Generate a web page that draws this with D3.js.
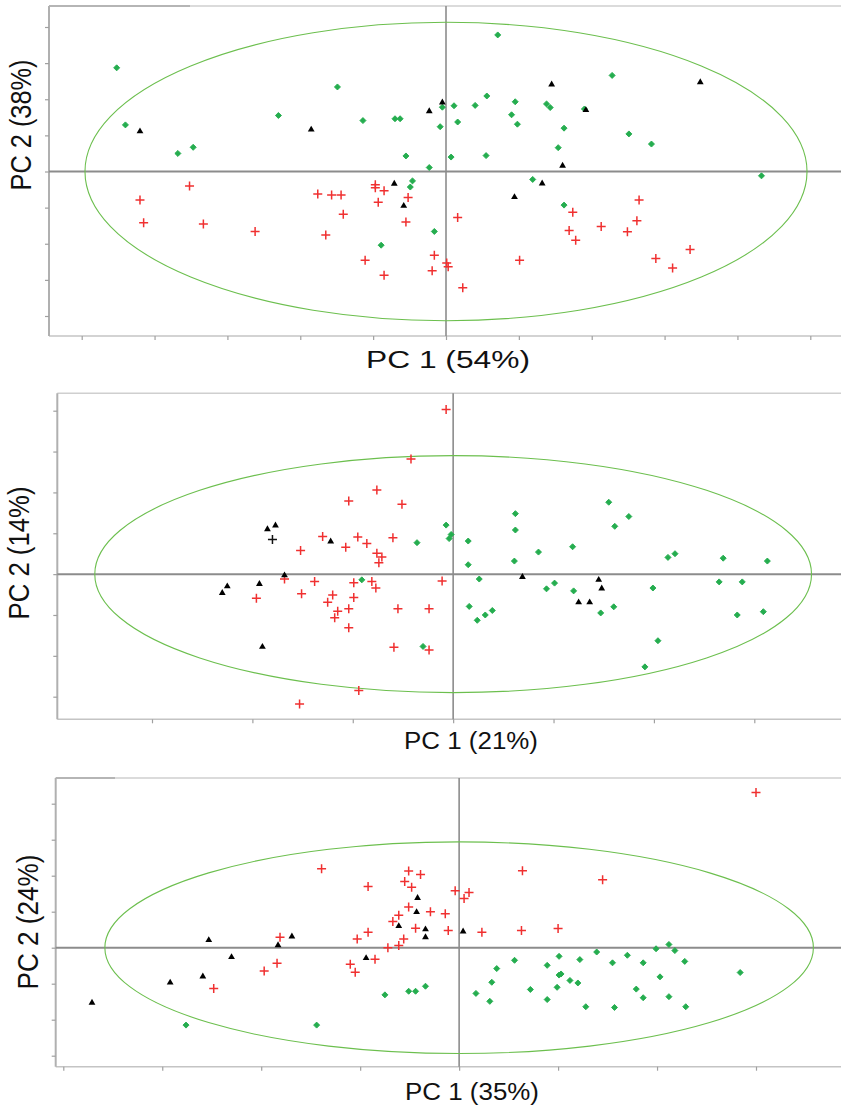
<!DOCTYPE html>
<html><head><meta charset="utf-8">
<script src="https://cdn.jsdelivr.net/npm/d3@7"></script>
<style>body{margin:0;background:#fff}svg{display:block}</style>
</head><body><svg id="c" width="841" height="1109"></svg>
<script>
// ---------- Panel 1 data (PC1 54%, PC2 38%) ----------
const p1XTicks = [-5,-4,-3,-2,-1,0,1,2,3,4,5];
const p1YTicks = [-4,-3,-2,-1,0,1,2,3,4];
const p1Ellipse = [4.955, 4.13];
const p1XLabel = "PC 1 (54%)";
const p1YLabel = "PC 2 (38%)";
const p1Green = [[-4.52,2.87],[-4.40,1.29],[-3.68,0.50],[-3.47,0.67],[-2.30,1.55],[-1.49,2.34],[-1.14,1.41],[-0.70,1.46],[-0.63,1.46],[-0.55,0.43],[-0.46,-0.26],[-0.49,-0.43],[0.71,3.78],[2.28,2.66],[-0.05,1.78],[0.11,1.82],[0.40,1.83],[0.56,2.09],[0.95,1.93],[1.38,1.87],[1.43,1.77],[1.90,1.73],[0.90,1.57],[0.98,1.31],[0.16,1.37],[-0.08,1.24],[1.62,1.20],[2.51,1.04],[2.82,0.76],[1.54,0.66],[0.07,0.40],[0.55,0.44],[-0.23,0.11],[4.33,-0.12],[1.19,-0.22],[1.62,-0.93],[-0.16,-1.66],[-0.89,-2.04]];
const p1Red = [[-3.52,-0.40],[-4.20,-0.79],[-4.15,-1.42],[-3.33,-1.45],[-2.62,-1.66],[-1.76,-0.62],[-1.57,-0.65],[-1.44,-0.65],[-1.41,-1.18],[-1.65,-1.76],[-0.97,-0.37],[-0.97,-0.45],[-0.85,-0.53],[-0.52,-0.72],[-0.93,-0.85],[-0.55,-1.40],[-1.11,-2.46],[-0.85,-2.87],[2.65,-0.79],[1.74,-1.13],[0.16,-1.27],[2.62,-1.36],[2.13,-1.52],[1.69,-1.63],[2.49,-1.67],[1.78,-1.90],[3.35,-2.16],[2.88,-2.41],[3.11,-2.67],[-0.16,-2.32],[0.01,-2.53],[0.03,-2.64],[-0.19,-2.75],[1.01,-2.46],[0.23,-3.22]];
const p1Black = [[-4.20,1.11],[-1.85,1.16],[-0.71,-0.34],[-0.58,-0.95],[1.45,2.41],[3.49,2.47],[-0.05,1.91],[-0.23,1.67],[1.92,1.70],[1.60,0.16],[1.32,-0.33],[0.94,-0.71]];
const p1BlackPlus = [];

// ---------- Panel 2 data (PC1 21%, PC2 14%) ----------
const p2XTicks = [-3,-2,-1,0,1,2,3];
const p2YTicks = [-3,-2,-1,0,1,2,3,4];
const p2Ellipse = [3.57, 2.90];
const p2XLabel = "PC 1 (21%)";
const p2YLabel = "PC 2 (14%)";
const p2Green = [[-0.36,0.77],[-0.07,1.20],[-0.02,0.97],[-0.04,0.87],[0.15,0.81],[0.15,0.23],[0.62,1.48],[0.62,1.08],[0.61,0.32],[0.85,0.54],[1.19,0.67],[1.55,1.76],[1.75,1.41],[1.61,1.17],[2.14,0.41],[2.21,0.50],[2.69,0.39],[3.13,0.32],[-0.91,-0.14],[0.26,-0.12],[0.93,-0.36],[1.01,-0.22],[1.20,-0.41],[1.47,-0.95],[1.60,-0.80],[1.99,-0.34],[2.65,-0.19],[2.88,-0.19],[2.83,-1.00],[3.09,-0.92],[0.16,-0.79],[0.24,-1.13],[0.32,-1.00],[0.39,-0.89],[2.04,-1.63],[1.91,-2.27],[-0.30,-1.77]];
const p2Red = [[-0.07,4.03],[-0.42,2.82],[-0.76,2.06],[-1.04,1.79],[-0.51,1.71],[-1.30,0.92],[-0.95,0.91],[-0.86,0.75],[-0.60,0.89],[-1.07,0.66],[-1.52,0.58],[-0.76,0.51],[-0.71,0.42],[-0.74,0.28],[-1.68,-0.12],[-1.38,-0.18],[-0.99,-0.21],[-0.81,-0.18],[-0.77,-0.34],[-1.51,-0.48],[-1.20,-0.51],[-0.99,-0.57],[-1.96,-0.59],[-1.25,-0.69],[-1.15,-0.91],[-1.04,-0.85],[-1.18,-1.07],[-0.55,-0.85],[-1.04,-1.31],[-0.59,-1.79],[-0.94,-2.85],[-1.53,-3.18],[-0.11,-0.17],[-0.24,-0.85],[-0.24,-1.86]];
const p2Black = [[-1.85,1.10],[-1.77,1.19],[-1.22,0.80],[-1.68,-0.03],[-2.25,-0.30],[-2.30,-0.46],[-1.93,-0.24],[-1.90,-1.78],[0.69,-0.07],[1.45,-0.14],[1.48,-0.35],[1.25,-0.69],[1.36,-0.69]];
const p2BlackPlus = [[-1.80,0.85]];

// ---------- Panel 3 data (PC1 35%, PC2 24%) ----------
const p3XTicks = [-4,-3,-2,-1,0,1,2,3];
const p3YTicks = [-3,-2,-1,0,1,2,3,4];
const p3Ellipse = [3.58, 2.94];
const p3XLabel = "PC 1 (35%)";
const p3YLabel = "PC 2 (24%)";
const p3Green = [[-2.76,-2.15],[-1.44,-2.15],[-0.75,-1.31],[-0.51,-1.21],[-0.44,-1.21],[-0.34,-1.07],[0.17,-1.27],[0.31,-1.49],[0.33,-0.96],[0.38,-0.58],[0.56,-0.35],[0.72,-1.16],[0.89,-0.49],[0.89,-1.44],[1.01,-0.24],[1.01,-0.76],[1.03,-0.73],[0.99,-1.10],[1.12,-0.91],[1.20,-0.98],[1.22,-0.33],[1.28,-1.64],[1.39,-0.12],[1.55,-0.42],[1.57,-1.66],[1.70,-0.21],[1.79,-1.15],[1.86,-0.42],[1.86,-1.39],[1.99,-0.03],[2.03,-0.81],[2.12,0.09],[2.18,-0.08],[2.12,-1.36],[2.28,-0.38],[2.29,-1.64],[2.84,-0.69]];
const p3Red = [[3.00,4.31],[-1.39,2.19],[-0.92,1.70],[-0.51,2.13],[-0.55,1.84],[-0.48,1.68],[-0.39,2.03],[-0.51,1.13],[-0.61,0.90],[-0.67,0.73],[-0.44,0.54],[-0.92,0.43],[-1.81,0.29],[-1.03,0.24],[-0.56,0.24],[0.64,2.14],[1.45,1.89],[-0.04,1.58],[0.10,1.53],[0.05,1.37],[-0.29,1.00],[-0.14,0.94],[-0.11,0.48],[0.23,0.43],[0.63,0.48],[1.00,0.53],[-0.72,0.00],[-0.61,0.06],[-0.85,-0.32],[-1.84,-0.43],[-1.97,-0.65],[-1.10,-0.46],[-1.05,-0.68],[-2.48,-1.13]];
const p3Black = [[-0.42,1.38],[-0.43,0.99],[-0.61,0.60],[-1.69,0.31],[-2.53,0.21],[-1.83,0.07],[-0.34,0.51],[-0.34,0.29],[0.04,0.45],[-2.30,-0.26],[-0.94,-0.29],[-2.59,-0.80],[-2.92,-0.97],[-3.71,-1.53]];
const p3BlackPlus = [];

// ---------- layout (pixels) ----------
const panels = [
  {green:p1Green, red:p1Red, black:p1Black, blackPlus:p1BlackPlus, xTicks:p1XTicks, yTicks:p1YTicks, ell:p1Ellipse, xLabel:p1XLabel, yLabel:p1YLabel,
   box:{l:49,t:6,r:841,b:336}, xr:[81.7,810.3], yr:[316,27], darkTop:190,
   xl:{x:448,y:368,len:164,fs:23}, yl:{x:31,y:125,len:131,fs:25}},
  {green:p2Green, red:p2Red, black:p2Black, blackPlus:p2BlackPlus, xTicks:p2XTicks, yTicks:p2YTicks, ell:p2Ellipse, xLabel:p2XLabel, yLabel:p2YLabel,
   box:{l:57.3,t:393.3,r:841,b:719.3}, xr:[152,754.3], yr:[696.7,410.7], darkTop:null,
   xl:{x:471,y:749,len:134,fs:23}, yl:{x:29,y:553,len:133,fs:25}},
  {green:p3Green, red:p3Red, black:p3Black, blackPlus:p3BlackPlus, xTicks:p3XTicks, yTicks:p3YTicks, ell:p3Ellipse, xLabel:p3XLabel, yLabel:p3YLabel,
   box:{l:55.7,t:778,r:841,b:1066.7}, xr:[63.3,756], yr:[1055.7,803.7], darkTop:115,
   xl:{x:472,y:1100,len:134,fs:23}, yl:{x:37.5,y:922,len:135,fs:25}}
];

const svg = d3.select("#c");
const FONT = "'Liberation Sans', Arial, Helvetica, sans-serif";

panels.forEach(p => {
  const g = svg.append("g");
  const x = d3.scaleLinear().domain([p.xTicks[0], p.xTicks[p.xTicks.length-1]]).range(p.xr);
  const y = d3.scaleLinear().domain([p.yTicks[0], p.yTicks[p.yTicks.length-1]]).range(p.yr);
  const b = p.box;

  // frame
  g.append("line").attr("x1",b.l).attr("x2",b.r).attr("y1",b.t).attr("y2",b.t).attr("stroke","#cfcfcf").attr("stroke-width",1.5);
  if (p.darkTop) g.append("line").attr("x1",b.l).attr("x2",p.darkTop).attr("y1",b.t).attr("y2",b.t).attr("stroke","#a8a8a8").attr("stroke-width",1.5);
  g.append("line").attr("x1",b.l).attr("x2",b.r).attr("y1",b.b).attr("y2",b.b).attr("stroke","#c4c4c4").attr("stroke-width",1.5);
  g.append("line").attr("x1",b.l).attr("x2",b.l).attr("y1",b.t).attr("y2",b.b).attr("stroke","#b0b0b0").attr("stroke-width",2);

  // ticks via axes
  const ax = g.append("g").attr("transform",`translate(0,${b.b})`)
    .call(d3.axisBottom(x).tickValues(p.xTicks).tickSize(4).tickFormat(""));
  const ay = g.append("g").attr("transform",`translate(${b.l},0)`)
    .call(d3.axisLeft(y).tickValues(p.yTicks).tickSize(4).tickFormat(""));
  [ax, ay].forEach(a => {
    a.select(".domain").remove();
    a.selectAll(".tick line").attr("stroke","#a0a0a0").attr("stroke-width",1.2);
  });

  // origin lines
  g.append("line").attr("x1",b.l).attr("x2",b.r).attr("y1",y(0)).attr("y2",y(0)).attr("stroke","#8c8c8c").attr("stroke-width",2);
  g.append("line").attr("x1",x(0)).attr("x2",x(0)).attr("y1",b.t).attr("y2",b.b).attr("stroke","#8c8c8c").attr("stroke-width",1.6);

  // ellipse
  g.append("ellipse").attr("cx",x(0)).attr("cy",y(0))
    .attr("rx",x(p.ell[0])-x(0)).attr("ry",y(0)-y(p.ell[1]))
    .attr("fill","none").attr("stroke","#6cbf4e").attr("stroke-width",1.1);

  // green diamonds
  g.selectAll(".gr").data(p.green).join("path")
    .attr("d", d3.symbol(d3.symbolSquare, 18)())
    .attr("transform", d => `translate(${x(d[0])},${y(d[1])}) rotate(45)`)
    .attr("fill","#25ad4f").attr("stroke","#25ad4f").attr("stroke-width",0.9);

  // red pluses
  g.selectAll(".rd").data(p.red).join("path")
    .attr("d","M-4.5,0H4.5M0,-4.5V4.5")
    .attr("transform", d => `translate(${x(d[0])},${y(d[1])})`)
    .attr("fill","none").attr("stroke","#f03030").attr("stroke-width",1.5);

  // black pluses
  g.selectAll(".bp").data(p.blackPlus).join("path")
    .attr("d","M-4.5,0H4.5M0,-4.5V4.5")
    .attr("transform", d => `translate(${x(d[0])},${y(d[1])})`)
    .attr("fill","none").attr("stroke","#111").attr("stroke-width",1.5);

  // black triangles
  g.selectAll(".bk").data(p.black).join("path")
    .attr("d", d3.symbol(d3.symbolTriangle, 20)())
    .attr("transform", d => `translate(${x(d[0])},${y(d[1])})`)
    .attr("fill","#000");

  // labels
  g.append("text").attr("x",p.xl.x).attr("y",p.xl.y)
    .attr("text-anchor","middle").attr("font-family",FONT).attr("font-size",p.xl.fs)
    .attr("textLength",p.xl.len).attr("lengthAdjust","spacingAndGlyphs")
    .attr("fill","#111").text(p.xLabel);
  g.append("text").attr("transform",`translate(${p.yl.x},${p.yl.y}) scale(1.15,1) rotate(-90)`)
    .attr("text-anchor","middle").attr("font-family",FONT).attr("font-size",p.yl.fs)
    .attr("textLength",p.yl.len).attr("lengthAdjust","spacingAndGlyphs")
    .attr("fill","#111").text(p.yLabel);
});
</script>
</body></html>
